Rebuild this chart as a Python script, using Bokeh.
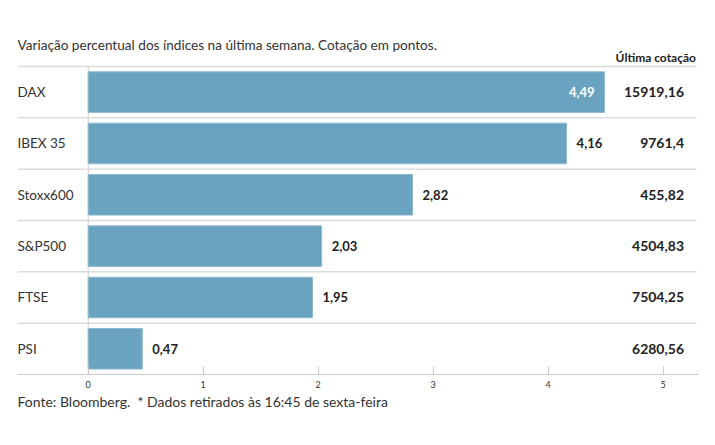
from bokeh.plotting import figure
from bokeh.models import ColumnDataSource, Range1d, FixedTicker, Title
from bokeh.core.properties import value
from bokeh.embed import file_html
from bokeh.resources import INLINE

# Data
categories = ["DAX", "IBEX 35", "Stoxx600", "S&P500", "FTSE", "PSI"]
variation = [4.49, 4.16, 2.82, 2.03, 1.95, 0.47]
variation_labels = ["4,49", "4,16", "2,82", "2,03", "1,95", "0,47"]
last_quote = ["15919,16", "9761,4", "455,82", "4504,83", "7504,25", "6280,56"]
ticks = [0, 1, 2, 3, 4, 5]

title_text = "Variação percentual dos índices na última semana. Cotação em pontos."
header_text = "Última cotação"
footer_text = "Fonte: Bloomberg.\u00a0 * Dados retirados às 16:45 de sexta-feira"

FONT = "Lato"
BAR = "#6aa3bf"

rows = list(range(len(categories)))
inside = [v > 4.3 for v in variation]

src = ColumnDataSource(dict(
    y=rows, v=variation, lab=variation_labels, cat=categories, q=last_quote,
))
src_in = ColumnDataSource(dict(
    y=[r for r, i in zip(rows, inside) if i],
    v=[v for v, i in zip(variation, inside) if i],
    lab=[l for l, i in zip(variation_labels, inside) if i],
))
src_out = ColumnDataSource(dict(
    y=[r for r, i in zip(rows, inside) if not i],
    v=[v for v, i in zip(variation, inside) if not i],
    lab=[l for l, i in zip(variation_labels, inside) if not i],
))

x0, x1 = -0.615, 5.307
y_top, y_bot = -1.2, 5.5

p = figure(width=707, height=419, output_backend="svg", toolbar_location=None,
           x_range=Range1d(x0, x1), y_range=Range1d(y_bot, y_top),
           min_border_left=17, min_border_right=9, min_border_top=30,
           min_border_bottom=45)
p.outline_line_color = None
p.background_fill_color = "white"
p.border_fill_color = "white"
p.grid.visible = False
p.yaxis.visible = False

# Axis
ax = p.xaxis[0]
ax.ticker = FixedTicker(ticks=ticks)
ax.axis_line_color = "#c8c8c8"
ax.axis_line_width = 1
ax.major_tick_line_color = "#c8c8c8"
ax.major_tick_in = 8
ax.major_tick_out = 0
ax.minor_tick_line_color = None
ax.major_label_text_font = FONT
ax.major_label_text_font_size = "9px"
ax.major_label_text_color = "#333333"
ax.major_label_standoff = 6

# Row separators
seps = [r - 0.5 for r in rows]
p.segment(x0=[x0] * len(seps), x1=[5.29] * len(seps), y0=seps, y1=seps,
          line_color="#dcdcdc", line_width=1.5)
# zero line
p.segment(x0=[0], x1=[0], y0=[-0.5], y1=[5.5], line_color="#cfcfcf", line_width=1)

# Bars
p.hbar(y="y", right="v", left=0, height=0.79, source=src,
       fill_color=BAR, line_color="#8dbad0", line_width=1)

# Value labels
p.text(x="v", y="y", text="lab", source=src_in, x_offset=-10,
       text_align="right", text_baseline="middle", text_color="white",
       text_font=value(FONT), text_font_size="13px", text_font_style="bold")
p.text(x="v", y="y", text="lab", source=src_out, x_offset=10,
       text_align="left", text_baseline="middle", text_color="#222222",
       text_font=value(FONT), text_font_size="13px", text_font_style="bold")

# Category labels
p.text(x=[x0] * len(rows), y=rows, text=categories, x_offset=0,
       text_align="left", text_baseline="middle", text_color="#333333",
       text_font=value(FONT), text_font_size="13.5px")

# Last quote
p.text(x=[5.181] * len(rows), y=rows, text=last_quote,
       text_align="right", text_baseline="middle", text_color="#222222",
       text_font=value(FONT), text_font_size="14px", text_font_style="bold")

# Header and title (inside frame, above rows)
p.text(x=[5.285], y=[-0.675], text=[header_text], text_align="right",
       text_baseline="middle", text_color="#222222", text_font=value(FONT),
       text_font_size="12px", text_font_style="bold")
p.text(x=[x0], y=[-0.909], text=[title_text], text_align="left",
       text_baseline="middle", text_color="#333333", text_font=value(FONT),
       text_font_size="13.6px")

# Footer
foot = Title(text=footer_text, align="left", text_font=FONT,
             text_font_size="14px", text_font_style="normal",
             text_color="#333333", standoff=0, offset=0)
p.add_layout(foot, "below")

open("out.html", "w").write(file_html(p, INLINE))
